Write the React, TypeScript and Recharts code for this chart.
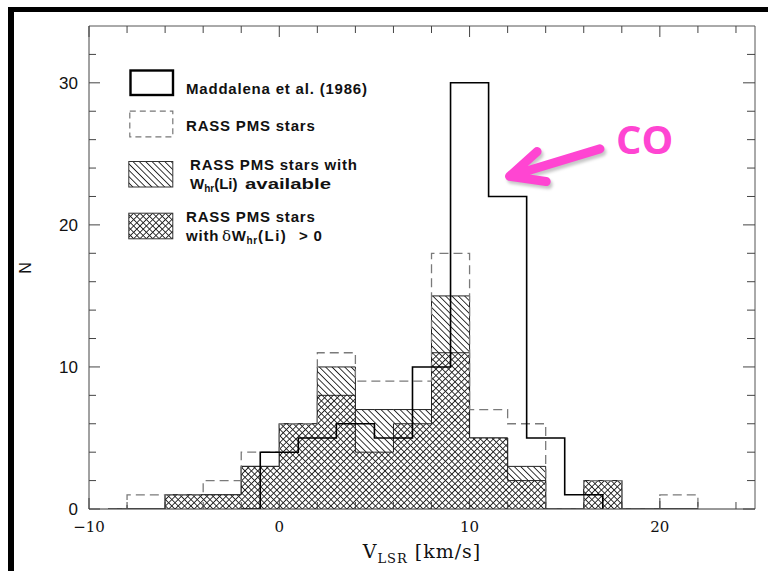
import React from 'react';
import { ComposedChart, Area, XAxis, YAxis, Legend, ReferenceLine, ReferenceDot } from 'recharts';

// histogram bins are 2 km/s wide
const binWidth = 2;

// Maddalena et al. (1986) CO velocities, bins start at -1
const maddalenaStart = -1;
const maddalenaCounts = [4, 5, 6, 5, 10, 30, 22, 5, 1];

// RASS PMS stars, bins start at -8
const rassStart = -8;
const rassCounts = [1, 1, 2, 4, 6, 11, 9, 9, 18, 7, 6, 0, 2, 0, 1];
const liCounts = [0, 1, 1, 3, 6, 10, 7, 7, 15, 5, 3, 0, 2, 0, 0];
const deltaCounts = [0, 1, 1, 3, 6, 8, 4, 6, 11, 5, 2, 0, 2, 0, 0];

const xTicks = [-10, -8, -6, -4, -2, 0, 2, 4, 6, 8, 10, 12, 14, 16, 18, 20, 22, 24];
const yTicks = [0, 2, 4, 6, 8, 10, 12, 14, 16, 18, 20, 22, 24, 26, 28, 30, 32];

const PINK = '#ff45d2';
const SANS = "'Liberation Sans', Arial, sans-serif";
const SERIF = "'DejaVu Serif', serif";
const TICK = '#444';

const stepValue = (v: number, start: number, counts: number[]) => {
  const end = start + counts.length * binWidth;
  if (v < start - 1 || v > end) return null;
  if (v < start || v === end) return 0;
  return counts[Math.floor((v - start) / binWidth)];
};

const rows: any[] = [];
for (let v = -10; v <= 25; v++) {
  rows.push({
    v,
    maddalena: stepValue(v, maddalenaStart, maddalenaCounts),
    rass: stepValue(v, rassStart, rassCounts),
    li: stepValue(v, rassStart, liCounts),
    delta: stepValue(v, rassStart, deltaCounts),
  });
}

const isMajor = (v: number) => Math.abs(v % 10) < 1e-6;

const BottomTick = ({ x, y, payload }: any) => {
  const major = isMajor(payload.value);
  return (
    <g>
      <line x1={x} x2={x} y1={y} y2={y - (major ? 11 : 7)} stroke={TICK} />
      {major && (
        <text x={x} y={y + 23} textAnchor="middle" fontFamily={SERIF} fontSize={15} fill="#111">
          {String(payload.value).replace('-', '\u2212')}
        </text>
      )}
    </g>
  );
};

const TopTick = ({ x, y, payload }: any) => (
  <line x1={x} x2={x} y1={y} y2={y + (isMajor(payload.value) ? 11 : 7)} stroke={TICK} />
);

const LeftTick = ({ x, y, payload }: any) => {
  const major = isMajor(payload.value);
  return (
    <g>
      <line x1={x} x2={x + (major ? 11 : 7)} y1={y} y2={y} stroke={TICK} />
      {major && (
        <text x={x - 11} y={y + 6} textAnchor="end" fontFamily={SANS} fontSize={17} fill="#111">
          {payload.value}
        </text>
      )}
    </g>
  );
};

const RightTick = ({ x, y, payload }: any) => (
  <line x1={x} x2={x - (isMajor(payload.value) ? 12 : 8)} y1={y} y2={y} stroke={TICK} />
);

const XTitle = ({ viewBox }: any) => {
  const cx = viewBox.x + viewBox.width / 2;
  return (
    <text x={cx} y={viewBox.y + 49} textAnchor="middle" fontFamily={SERIF} fontSize={19} fill="#111" letterSpacing={1}>
      V<tspan fontSize={13} dy={5}>LSR</tspan>
      <tspan dy={-5} dx={7}>[km/s]</tspan>
    </text>
  );
};

const YTitle = () => (
  <text x={31} y={268} transform="rotate(-90 31 268)" textAnchor="middle" fontFamily={SANS} fontSize={16} fill="#111">
    N
  </text>
);

const CoArrow = ({ x1, y1, x2, y2 }: any) => {
  const ang = Math.atan2(y1 - y2, x1 - x2);
  const len = 37;
  const spread = (25 * Math.PI) / 180;
  const ax = x2 + len * Math.cos(ang - spread);
  const ay = y2 + len * Math.sin(ang - spread);
  const bx = x2 + len * Math.cos(ang + spread);
  const by = y2 + len * Math.sin(ang + spread);
  const d = `M${x1},${y1} L${x2},${y2} M${ax},${ay} L${x2},${y2} L${bx},${by}`;
  return (
    <g>
      <path d={d} transform="translate(2,3)" stroke="rgba(0,0,0,0.22)" strokeWidth={9} fill="none"
        strokeLinecap="round" strokeLinejoin="round" filter="url(#coBlur)" />
      <path d={d} stroke={PINK} strokeWidth={9} fill="none" strokeLinecap="round" strokeLinejoin="round" />
    </g>
  );
};

const Patterns = ({ prefix }: { prefix: string }) => (
  <>
    <pattern id={`${prefix}hatch`} width="4.5" height="4.5" patternUnits="userSpaceOnUse" patternTransform="rotate(-45)">
      <rect width="4.5" height="4.5" fill="#fff" />
      <line x1="2.25" y1="0" x2="2.25" y2="4.5" stroke="#222" strokeWidth="0.9" />
    </pattern>
    <pattern id={`${prefix}cross`} width="4.5" height="4.5" patternUnits="userSpaceOnUse" patternTransform="rotate(45)">
      <rect width="4.5" height="4.5" fill="#fff" />
      <line x1="2.25" y1="0" x2="2.25" y2="4.5" stroke="#222" strokeWidth="0.9" />
      <line x1="0" y1="2.25" x2="4.5" y2="2.25" stroke="#222" strokeWidth="0.9" />
    </pattern>
  </>
);

const legendText = { fontFamily: SANS, fontSize: 15, fontWeight: 700, fill: '#111', letterSpacing: 0.8 };

const LegendBox = () => (
  <svg width={260} height={190} style={{ display: 'block', overflow: 'visible' }}>
    <defs>
      <Patterns prefix="lg" />
    </defs>
    <g transform="translate(-120,-60)">
      <rect x={130.5} y={70.5} width={42.5} height={24.5} fill="none" stroke="#000" strokeWidth={2.4} />
      <text x={186} y={94} {...legendText}>Maddalena et al. (1986)</text>

      <rect x={129.8} y={111.2} width={43} height={25.6} fill="none" stroke="#777" strokeWidth={1.2} strokeDasharray="6 4" />
      <text x={186} y={131} {...legendText}>RASS PMS stars</text>

      <rect x={128.8} y={161.5} width={44} height={25.5} fill="url(#lghatch)" stroke="#333" strokeWidth={1} />
      <text x={190} y={170} {...legendText}>RASS PMS stars with</text>
      <text x={190} y={189} {...legendText} letterSpacing={0}>
        W<tspan fontSize={10} dy={3}>hr</tspan>
        <tspan dy={-3}>(Li)</tspan>
      </text>
      <text x={245} y={189} {...legendText} letterSpacing={0} textLength={86} lengthAdjust="spacingAndGlyphs">available</text>

      <rect x={128.8} y={213.2} width={44} height={25.6} fill="url(#lgcross)" stroke="#333" strokeWidth={1} />
      <text x={186} y={222} {...legendText}>RASS PMS stars</text>
      <text x={186} y={241} {...legendText}>
        with
        <tspan x={222} fontWeight={400} fontFamily={SERIF}>δ</tspan>
        <tspan letterSpacing={0.4}>W</tspan>
        <tspan fontSize={10} dy={3}>hr</tspan>
        <tspan dy={-3} letterSpacing={1.5}>(Li)</tspan>
        <tspan x={299}>&gt; 0</tspan>
      </text>
    </g>
  </svg>
);

export default function App() {
  return (
    <div style={{ position: 'absolute', left: 0, top: 0, width: 768, height: 571, background: '#fff', overflow: 'hidden' }}>
      <div
        style={{
          position: 'absolute', left: 8, top: 7, width: 780, height: 600,
          borderTop: '5px solid #000', borderLeft: '6px solid #000', boxSizing: 'border-box',
        }}
      />
      <div style={{ position: 'absolute', left: 0, top: 0 }}>
        <ComposedChart width={768} height={571} data={rows} margin={{ top: 25, right: 12, left: 0, bottom: 0 }}>
          <defs>
            <Patterns prefix="pl" />
            <filter id="coBlur" x="-20%" y="-20%" width="140%" height="140%">
              <feGaussianBlur stdDeviation="1.6" />
            </filter>
          </defs>

          <Area type="stepAfter" dataKey="li" name="RASS PMS stars with Whr(Li) available" fill="url(#plhatch)"
            fillOpacity={1} stroke="#222" strokeWidth={1} dot={false} activeDot={false} isAnimationActive={false} />
          <Area type="stepAfter" dataKey="delta" name="RASS PMS stars with δWhr(Li) > 0" fill="url(#plcross)"
            fillOpacity={1} stroke="#222" strokeWidth={1} dot={false} activeDot={false} isAnimationActive={false} />
          <Area type="stepAfter" dataKey="rass" name="RASS PMS stars" fill="none" stroke="#7a7a7a"
            strokeWidth={1.3} strokeDasharray="9 5" dot={false} activeDot={false} isAnimationActive={false} />
          <Area type="stepAfter" dataKey="maddalena" name="Maddalena et al. (1986)" fill="none" stroke="#000"
            strokeWidth={1.6} dot={false} activeDot={false} isAnimationActive={false} />

          <XAxis type="number" dataKey="v" domain={[-10, 25]} ticks={xTicks} interval={0} height={62}
            tickSize={0} tickMargin={0} tickLine={false} axisLine={{ stroke: '#333' }} tick={BottomTick}
            label={<XTitle />} allowDataOverflow />
          <XAxis xAxisId="top" orientation="top" type="number" dataKey="v" domain={[-10, 25]} ticks={xTicks}
            interval={0} height={1} tickSize={0} tickMargin={0} tickLine={false} axisLine={{ stroke: '#555' }}
            tick={TopTick} allowDataOverflow />
          <YAxis type="number" domain={[0, 34]} ticks={yTicks} interval={0} width={89} tickSize={0}
            tickMargin={0} tickLine={false} axisLine={{ stroke: '#444' }} tick={LeftTick} label={<YTitle />}
            allowDataOverflow />
          <YAxis yAxisId="right" orientation="right" type="number" domain={[0, 34]} ticks={yTicks} interval={0}
            width={1} tickSize={0} tickMargin={0} tickLine={false} axisLine={{ stroke: '#555' }} tick={RightTick}
            allowDataOverflow />

          <ReferenceLine segment={[{ x: 16.85, y: 25.35 }, { x: 12.1, y: 23.42 }]} shape={CoArrow} />
          <ReferenceDot x={19.2} y={26} r={0} fill="none" stroke="none"
            label={{ value: 'CO', position: 'center', fill: PINK, fontSize: 40, fontWeight: 700, fontFamily: "'Open Sans', sans-serif" }} />

          <Legend layout="vertical" align="center" verticalAlign="middle" content={() => <LegendBox />}
            wrapperStyle={{ left: 120, top: 60, width: 260, height: 190 }} />
        </ComposedChart>
      </div>
    </div>
  );
}
